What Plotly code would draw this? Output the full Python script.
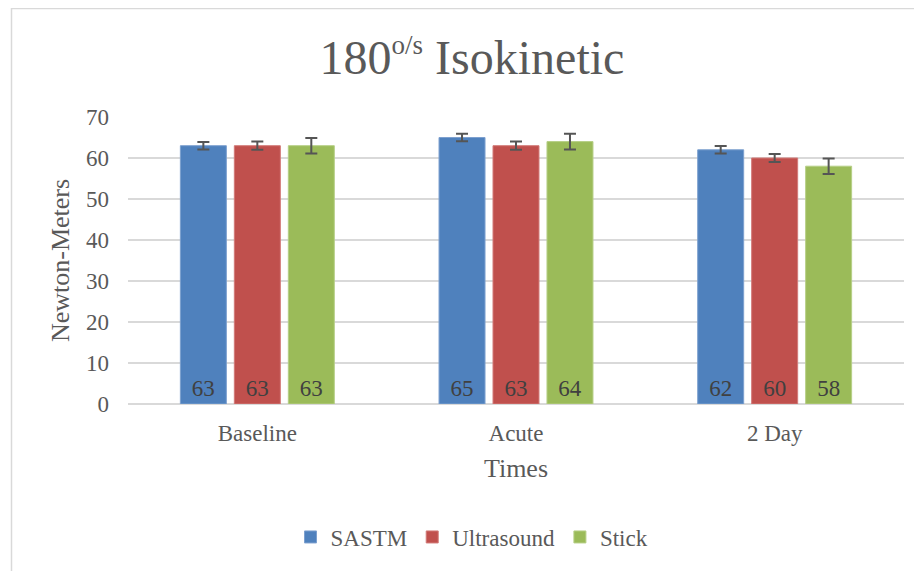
import plotly.graph_objects as go

categories = ["Baseline", "Acute", "2 Day"]
series_names = ["SASTM", "Ultrasound", "Stick"]
sastm = [63, 65, 62]
ultrasound = [63, 63, 60]
stick = [63, 64, 58]
sastm_err = [0.9, 0.9, 0.9]
ultrasound_err = [1.0, 1.0, 1.0]
stick_err = [1.9, 1.9, 1.9]
colors = ["#4F81BD", "#C0504D", "#9BBB59"]
edge_colors = ["#7DA0CF", "#D27A78", "#B6CF86"]

serif = "Liberation Serif, Times New Roman, serif"

W, H = 914, 563
L, R, T, B = 120, 18, 109, 167
PW, PH = W - L - R, H - T - B

fig = go.Figure()
for name, vals, errs, c, ec in zip(series_names, [sastm, ultrasound, stick],
                                   [sastm_err, ultrasound_err, stick_err], colors, edge_colors):
    fig.add_trace(go.Bar(
        name=name, x=categories, y=vals,
        marker=dict(color=c, line=dict(color=ec, width=1)),
        error_y=dict(type="data", array=errs, visible=True, color="#555555", thickness=2, width=6),
        text=[str(v) for v in vals], textposition="inside", insidetextanchor="start",
        textfont=dict(family=serif, size=23, color="#404040"),
        textangle=0, constraintext="none",
    ))

fig.update_layout(
    width=W, height=H,
    paper_bgcolor="white", plot_bgcolor="white",
    margin=dict(l=L, r=R, t=T, b=B, autoexpand=False),
    barmode="group", bargap=0.374, bargroupgap=0.148,
    title=dict(text="180<sup><span style='font-size:27px'>o/s</span></sup> Isokinetic",
               x=464 / W, xanchor="center", xref="container",
               y=1 - 49 / H, yanchor="middle", yref="container",
               font=dict(family=serif, size=48, color="#595959")),
    showlegend=True,
    legend=dict(orientation="h", x=464 / W, xanchor="center", xref="container",
                y=1 - 529 / H, yanchor="middle", yref="container",
                font=dict(family=serif, size=23, color="#595959"),
                traceorder="normal"),
    xaxis=dict(showgrid=False, showline=False, ticks="",
               tickfont=dict(family=serif, size=23, color="#595959"), ticklabelstandoff=13,
               title=dict(text="Times", font=dict(family=serif, size=26, color="#595959"), standoff=13)),
    yaxis=dict(range=[0, 70], dtick=10, showgrid=True, gridcolor="#D9D9D9", gridwidth=1.5,
               zeroline=True, zerolinecolor="#D9D9D9", zerolinewidth=1.5, showline=False,
               tickfont=dict(family=serif, size=23, color="#595959"), ticklabelstandoff=18,
               title=dict(text="Newton-Meters", font=dict(family=serif, size=26, color="#595959"), standoff=8)),
    shapes=[dict(type="rect", xref="paper", yref="paper",
                 x0=(3.5 - L) / PW, x1=(940 - L) / PW, y0=(PH + T - 620) / PH,
                 y1=(PH + T - 0.5) / PH,
                 line=dict(color="#D9D9D9", width=1.5), fillcolor="rgba(0,0,0,0)", layer="below")],
)

fig.write_html("out.html")
